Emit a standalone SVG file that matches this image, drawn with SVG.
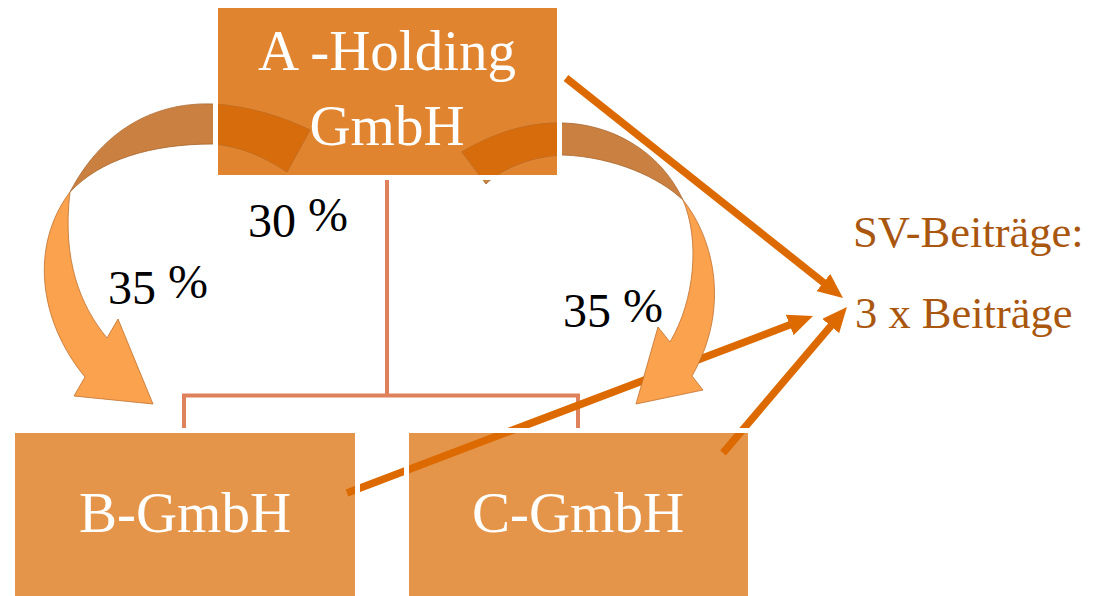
<svg xmlns="http://www.w3.org/2000/svg" width="1106" height="596" viewBox="0 0 1106 596">
<style>
.box{stroke:none}
.bt{font-family:"Liberation Serif","Times New Roman",serif;font-size:57px;fill:#ffffff;text-anchor:middle}
.lbl{font-family:"Liberation Serif","Times New Roman",serif;font-size:48px;fill:#000000}
.sv{font-family:"Liberation Serif","Times New Roman",serif;font-size:44.5px;fill:#A9560E}
.tree{fill:none;stroke:#DF825B;stroke-width:4}
.arr{fill:none;stroke:#DC6A00;stroke-width:7.5;marker-end:url(#head)}
.back{fill:#CA8040;stroke:#A8642A;stroke-width:0.8}
.dark{fill:#D76C0D;stroke:none}
.front{fill:#FBA24F;stroke:#C0702C;stroke-width:0.8}
</style>
<defs>
<marker id="head" markerUnits="userSpaceOnUse" markerWidth="25" markerHeight="22" refX="13" refY="11" orient="auto">
<path d="M0,0 L25,11 L0,22 Z" fill="#DC6A00"/>
</marker>
<clipPath id="inA"><rect x="218" y="8" width="339" height="167"/></clipPath>
<mask id="gaps" maskUnits="userSpaceOnUse" x="0" y="0" width="1106" height="596">
<rect x="0" y="0" width="1106" height="596" fill="#fff"/>
<rect x="215.5" y="5.5" width="344" height="172" fill="none" stroke="#000" stroke-width="5"/>
<rect x="12.5" y="430.5" width="345" height="180" fill="none" stroke="#000" stroke-width="5"/>
<rect x="406.5" y="430.5" width="344" height="180" fill="none" stroke="#000" stroke-width="5"/>
</mask>
<path id="bandL" d="M310,130 C285,118 250,106 213,104 C160,102 105,125 70,192 C100,160 150,144 213,144 C240,146 265,157 287,172 Z"/>
<path id="bandR" d="M462,152 C490,135 525,122 563,123 C610,124 660,150 683,200 C660,178 615,157 563,155 C530,156 500,170 486,184 Z"/>
</defs>
<rect x="0" y="0" width="1106" height="596" fill="#ffffff"/>
<g id="node-a">
<rect class="box" x="218" y="8" width="339" height="167" fill="#E0842F"/>
<text class="bt" x="387" y="70">A -Holding</text>
<text class="bt" x="387" y="145">GmbH</text>
</g>
<g id="node-b">
<rect class="box" x="15" y="433" width="340" height="170" fill="#E5954A"/>
<text class="bt" x="185" y="532">B-GmbH</text>
</g>
<g id="node-c">
<rect class="box" x="409" y="433" width="339" height="170" fill="#E5954A"/>
<text class="bt" x="578" y="532">C-GmbH</text>
</g>
<g id="connectors" mask="url(#gaps)">
<path class="tree" d="M387,175 V395.5 M184,433 V395.5 H578 V433"/>
<path class="arr" d="M566,78 L833.6,290.6"/>
<path class="arr" d="M347,493 L801.8,320.3"/>
<path class="arr" d="M723,453 L839.2,316.1"/>
<use href="#bandL" class="back"/>
<use href="#bandR" class="back"/>
<g clip-path="url(#inA)">
<use href="#bandL" class="dark"/>
<use href="#bandR" class="dark"/>
</g>
<path class="front" d="M70,192 C30,245 38,320 85,377 L74,396 L153,404 L118,319 L107,338 C80,305 62,260 70,192 Z"/>
<path class="front" d="M683,200 C715,240 730,310 692,376 L703,390 L636,404 L658,327 L670,342 C695,300 700,240 683,200 Z"/>
</g>
<g id="labels">
<text class="lbl" x="248" y="237">30 <tspan dy="-6">%</tspan></text>
<text class="lbl" x="108" y="304">35 <tspan dy="-6">%</tspan></text>
<text class="lbl" x="563" y="327">35 <tspan dy="-5">%</tspan></text>
</g>
<g id="node-sv">
<text class="sv" x="853" y="247">SV-Beiträge:</text>
<text class="sv" x="855" y="328">3 x Beiträge</text>
</g>
</svg>
